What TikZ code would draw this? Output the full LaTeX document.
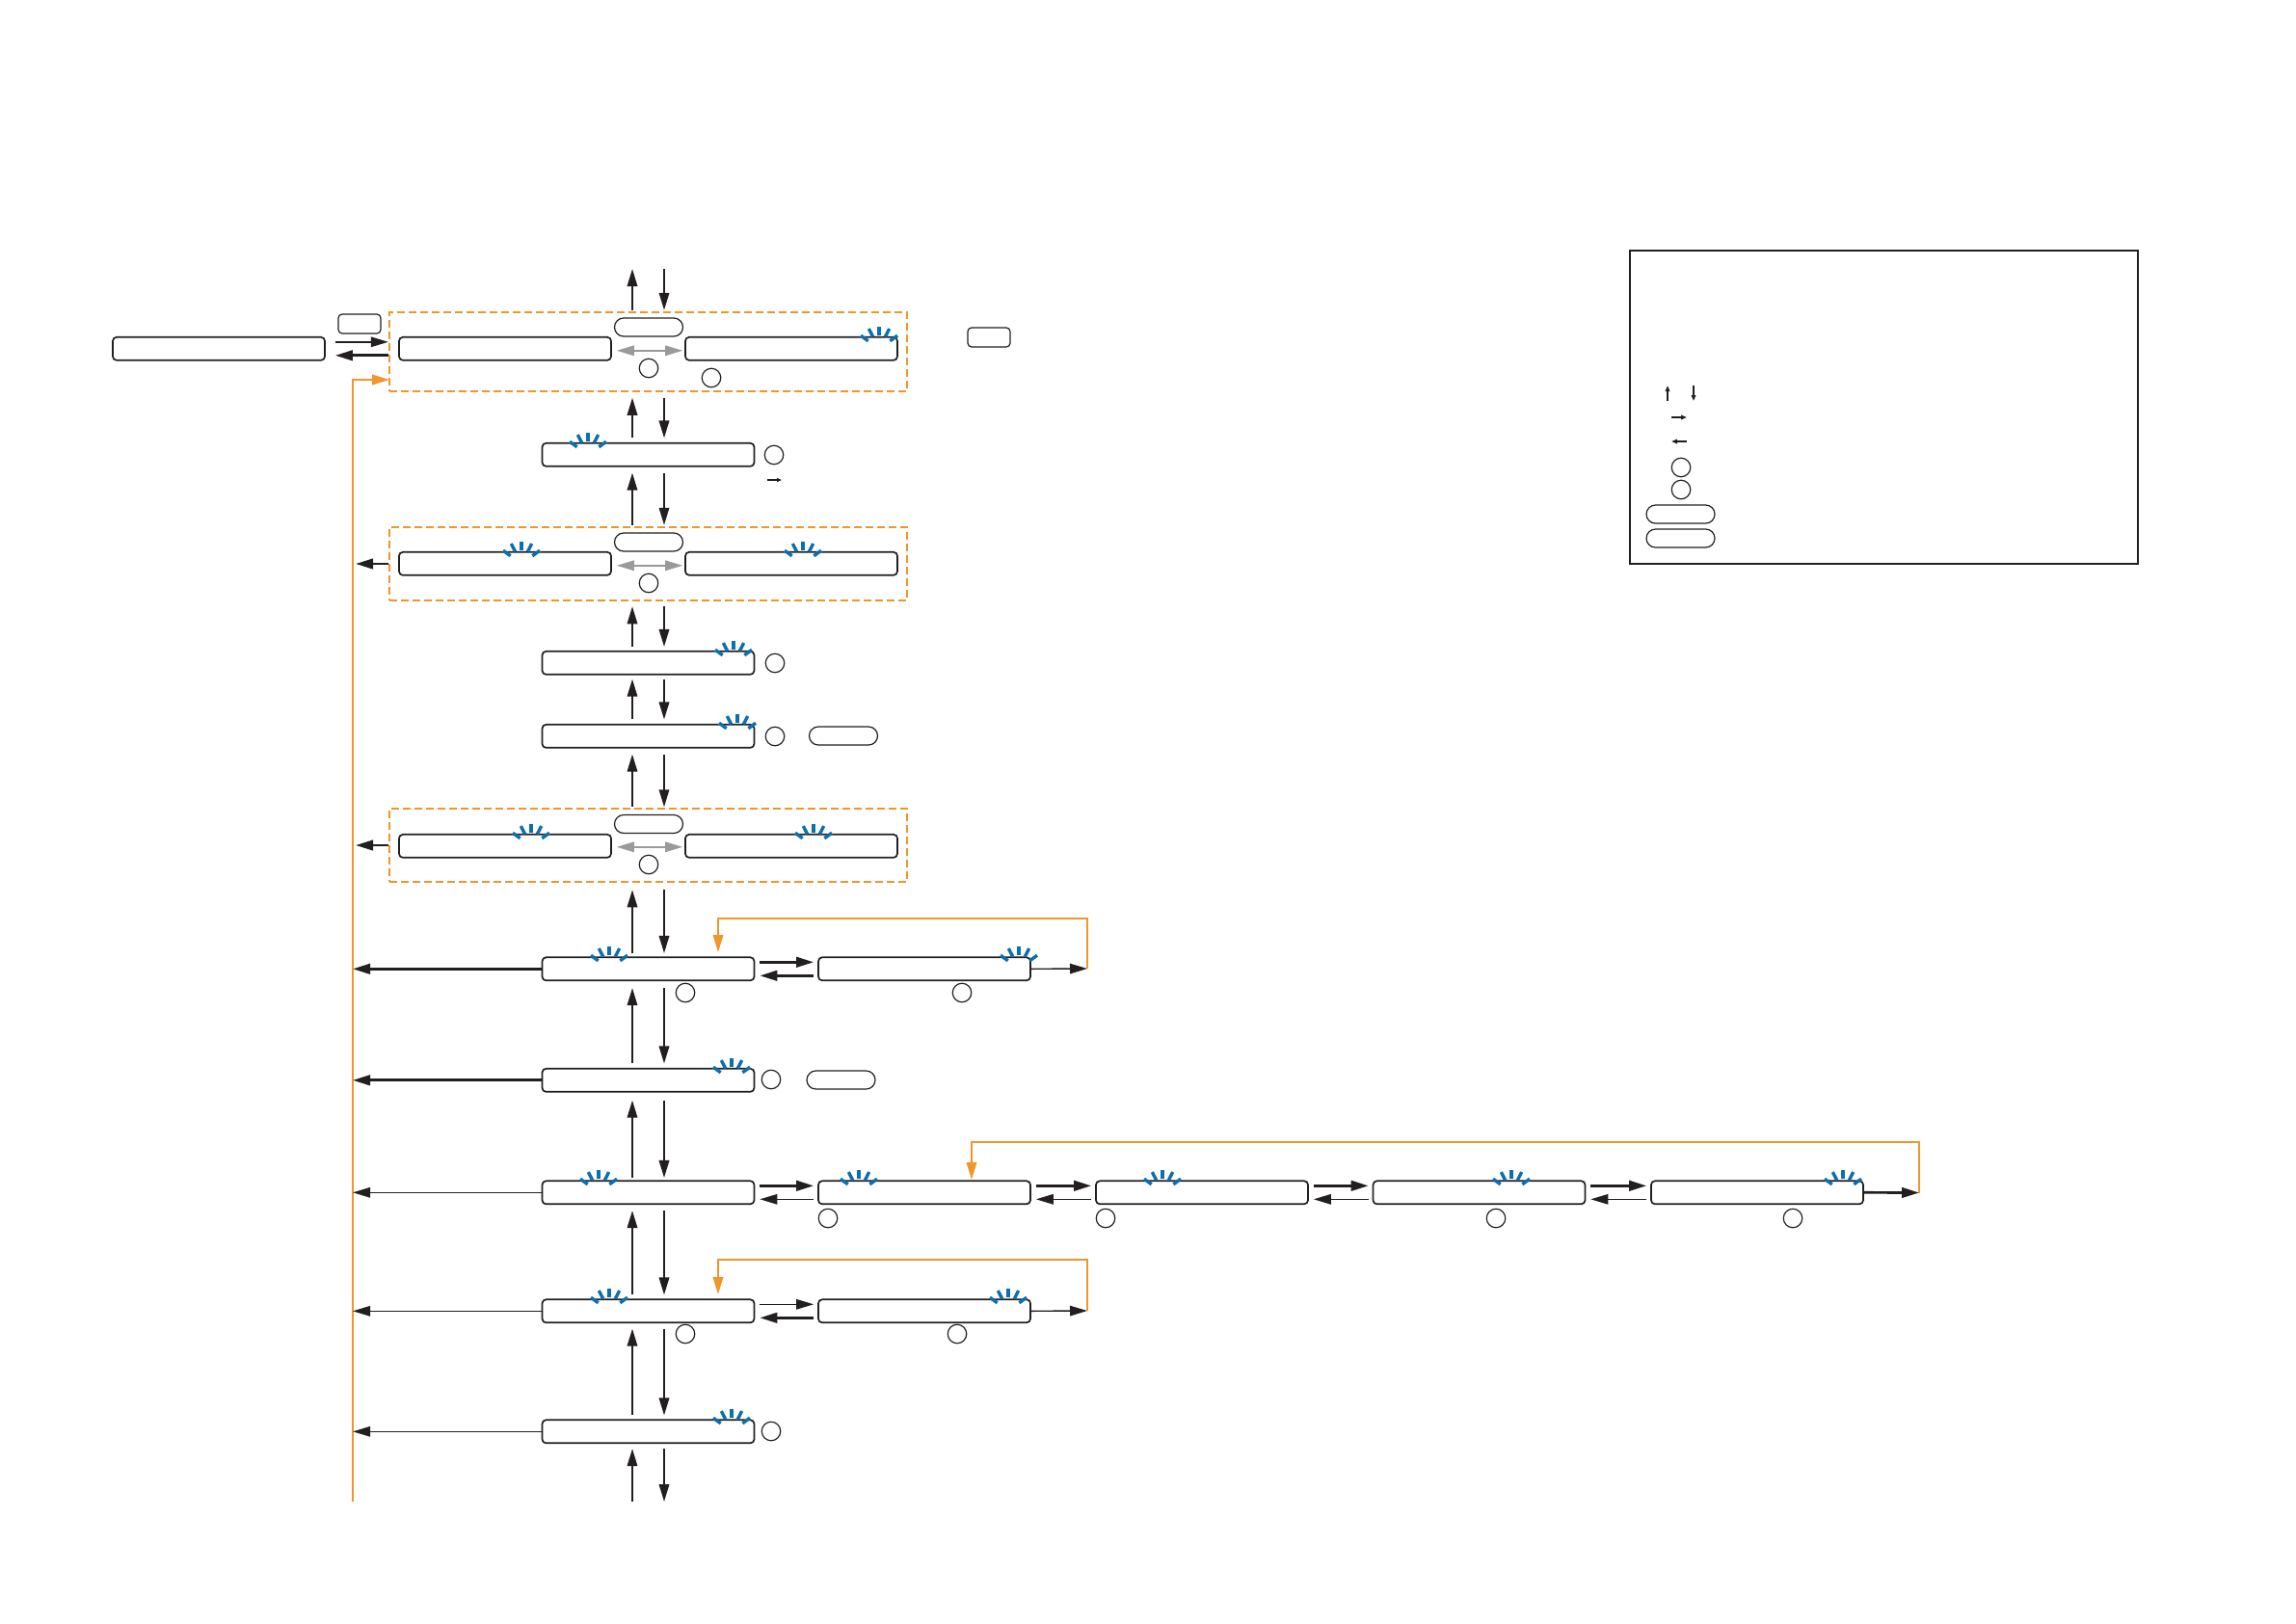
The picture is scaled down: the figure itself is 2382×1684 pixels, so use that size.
\documentclass[tikz,border=0pt]{standalone}
\usetikzlibrary{arrows.meta}
\definecolor{flow}{HTML}{231F20}
\definecolor{orangeline}{HTML}{F0962A}
\definecolor{blink}{HTML}{0B6FB0}
\definecolor{greyarrow}{HTML}{9A9A9A}
\tikzset{
  headtip/.style={-{Triangle[length=1.8mm,width=1.05mm]}},
  thinline/.style={draw=flow,line width=0.14mm,headtip},
  midline/.style={draw=flow,line width=0.18mm,headtip},
  thickline/.style={draw=flow,line width=0.27mm,headtip},
  display/.style={draw=flow,line width=0.17mm,rounded corners=0.4mm,inner sep=0pt,minimum width=22mm,minimum height=2.4mm,yshift=-0.08mm},
  keybox/.style={draw=flow,line width=0.12mm,rounded corners=0.4mm,inner sep=0pt,minimum width=4.4mm,minimum height=2mm},
  pill/.style={draw=flow,line width=0.12mm,rounded corners=0.95mm,inner sep=0pt,minimum width=7.1mm,minimum height=1.9mm},
  numcircle/.style={draw=flow,line width=0.12mm,circle,inner sep=0pt,minimum size=1.95mm},
  group/.style={draw=orangeline,line width=0.25mm,dash pattern=on 0.8mm off 0.4mm,inner sep=0pt,minimum width=53.7mm},
  loopline/.style={draw=orangeline,line width=0.2mm,headtip},
  toggle/.style={draw=greyarrow,line width=0.16mm,{Triangle[length=1.8mm,width=1.05mm]}-{Triangle[length=1.8mm,width=1.05mm]},shorten <=0.5mm,shorten >=0.2mm},
  spark/.pic={
    \foreach \a in {36,63,90,117,144}
      \draw[blink,line width=0.34mm] (\a:1.4mm) -- (\a:2.35mm);
  }
}
% up and down arrows between two rows: lower, upper, gap at lower, gap at upper
\newcommand{\updown}[4]{
  \draw[midline,shorten <=#3,shorten >=#4] (#1.north -| upx) -- (#2.south -| upx);
  \draw[midline,shorten <=#4,shorten >=#3] (#2.south -| dnx) -- (#1.north -| dnx);
}
% arrow pair between two neighbouring boxes
\newcommand{\rightleft}[4]{
  \draw[#3,shorten <=0.5mm,shorten >=0.4mm] ([yshift=0.7mm]#1.east) -- ([yshift=0.7mm]#2.west);
  \draw[#4,shorten <=0.4mm,shorten >=0.5mm] ([yshift=-0.7mm]#2.west) -- ([yshift=-0.7mm]#1.east);
}
\begin{document}
\begin{tikzpicture}[x=0.1mm,y=-0.1mm]
  \useasboundingbox (0,0) rectangle (2382,1684);
  \coordinate (upx) at (656,0);
  \coordinate (dnx) at (689,0);
  \coordinate (top) at (672,279);
  \coordinate (bottom) at (672,1558);
  \coordinate (orbot) at (366,1558);
  \coordinate (orin) at (404,394);

  % first row
  \node[display] (start) at (227,361) {};
  \node[keybox] (keya) at (373,336) {};
  \node[group,minimum height=8.2mm] (grpa) at (672.5,365) {};
  \node[display] (grpaL) at (524,361) {};
  \node[display] (grpaR) at (821,361) {};
  \node[pill] (pilla) at (673,339.5) {};
  \node[numcircle] (numa) at (673,382) {};
  \node[numcircle] (numb) at (738,392) {};
  \node[keybox] (keyb) at (1026,350) {};
  \pic at (912,362) {spark};
  \draw[thinline,shorten <=1mm] ([yshift=0.7mm]start.east) -- ([yshift=0.7mm]start.east -| grpa.west);
  \draw[thickline,shorten >=1mm] ([yshift=-0.7mm]start.east -| grpa.west) -- ([yshift=-0.7mm]start.east);
  \draw[toggle] ([yshift=-0.2mm]grpaL.east) -- ([yshift=-0.2mm]grpaR.west);
  \draw[loopline,line width=0.25mm] (orbot) |- (orin);

  % second row
  \node[display] (disb) at (672.5,471) {};
  \node[numcircle] (numc) at (803,472) {};
  \coordinate (smalla) at (796,498);
  \coordinate (smallb) at (811,498);
  \draw[flow,line width=0.16mm,-{Triangle[length=0.5mm,width=0.4mm]}] (smalla) -- (smallb);
  \pic at (610,472) {spark};

  % second group
  \node[group,minimum height=7.6mm] (grpb) at (672.5,585) {};
  \node[display] (grpbL) at (524,584) {};
  \node[display] (grpbR) at (821,584) {};
  \node[pill] (pillb) at (673,562.5) {};
  \node[numcircle] (numd) at (673,605) {};
  \pic at (541,585) {spark};
  \pic at (833,585) {spark};
  \draw[toggle] ([yshift=-0.2mm]grpbL.east) -- ([yshift=-0.2mm]grpbR.west);
  \draw[midline,line width=0.25mm,shorten >=0.3mm] (grpb.west) -- (grpb.west -| orbot);

  % third and fourth row
  \node[display] (disc) at (672.5,687) {};
  \node[numcircle] (nume) at (804,688) {};
  \pic at (761,688) {spark};
  \node[display] (disd) at (672.5,763) {};
  \node[numcircle] (numf) at (804,764) {};
  \node[pill] (pillc) at (875,763.5) {};
  \pic at (765,764) {spark};

  % third group
  \node[group,minimum height=7.6mm] (grpc) at (672.5,877) {};
  \node[display] (grpcL) at (524,877) {};
  \node[display] (grpcR) at (821,877) {};
  \node[pill] (pilld) at (673,855) {};
  \node[numcircle] (numg) at (673,897) {};
  \pic at (551,878) {spark};
  \pic at (844,878) {spark};
  \draw[toggle] ([yshift=-0.1mm]grpcL.east) -- ([yshift=-0.1mm]grpcR.west);
  \draw[midline,line width=0.25mm,shorten >=0.3mm] (grpc.west) -- (grpc.west -| orbot);

  % row with one extra box
  \node[display] (dise) at (672.5,1004.5) {};
  \node[display] (diseb) at (959,1004.5) {};
  \node[numcircle] (numh) at (711,1030) {};
  \node[numcircle] (numi) at (998,1030) {};
  \pic at (632,1005) {spark};
  \pic at (1057,1005) {spark};
  \rightleft{dise}{diseb}{thickline}{thickline}
  \draw[thickline] (dise.west) -- (dise.west -| orbot);
  \coordinate (loopa) at (1128,1005);
  \coordinate (loopb) at (745,988);
  \draw[thinline] (diseb.east) -- (loopa);
  \draw[loopline] (loopa) |- (745,953) -- (loopb);

  % sixth row
  \node[display] (disf) at (672.5,1120) {};
  \node[numcircle] (numj) at (800,1120) {};
  \node[pill] (pille) at (872.5,1120.5) {};
  \pic at (759,1121) {spark};
  \draw[thickline] (disf.west) -- (disf.west -| orbot);

  % long row
  \node[display] (disg) at (672.5,1236.5) {};
  \node[display] (disgb) at (959,1236.5) {};
  \node[display] (disgc) at (1247,1236.5) {};
  \node[display] (disgd) at (1534.5,1236.5) {};
  \node[display] (disge) at (1823,1236.5) {};
  \node[numcircle] (numk) at (859,1264) {};
  \node[numcircle] (numl) at (1147,1264) {};
  \node[numcircle] (numm) at (1552,1264) {};
  \node[numcircle] (numn) at (1860,1264) {};
  \pic at (621,1237) {spark};
  \pic at (891,1237) {spark};
  \pic at (1206,1237) {spark};
  \pic at (1568,1237) {spark};
  \pic at (1912,1237) {spark};
  \rightleft{disg}{disgb}{thickline}{thinline}
  \rightleft{disgb}{disgc}{thickline}{thinline}
  \rightleft{disgc}{disgd}{thickline}{thinline}
  \rightleft{disgd}{disge}{thickline}{thinline}
  \draw[thinline] (disg.west) -- (disg.west -| orbot);
  \coordinate (loopc) at (1991,1237.5);
  \coordinate (loopd) at (1008,1224);
  \draw[thickline] (disge.east) -- (loopc);
  \draw[loopline] (loopc) |- (1008,1185) -- (loopd);

  % row eight
  \node[display] (dish) at (672.5,1359.5) {};
  \node[display] (dishb) at (959,1359.5) {};
  \node[numcircle] (numo) at (711,1384) {};
  \node[numcircle] (nump) at (993,1384) {};
  \pic at (632,1360) {spark};
  \pic at (1046,1360) {spark};
  \rightleft{dish}{dishb}{thinline}{thickline}
  \draw[thinline] (dish.west) -- (dish.west -| orbot);
  \coordinate (loope) at (1128,1360);
  \coordinate (loopf) at (745,1343);
  \draw[thinline] (dishb.east) -- (loope);
  \draw[loopline] (loope) |- (745,1307) -- (loopf);

  % last row
  \node[display] (disi) at (672.5,1484.5) {};
  \node[numcircle] (numq) at (800,1485) {};
  \pic at (759,1485) {spark};
  \draw[thinline] (disi.west) -- (disi.west -| orbot);

  % vertical arrows
  \updown{grpa}{top}{0.1mm}{0mm}
  \updown{disb}{grpa}{0.45mm}{0.55mm}
  \updown{grpb}{disb}{0.1mm}{0.6mm}
  \updown{disc}{grpb}{0.4mm}{0.5mm}
  \updown{disd}{disc}{0.45mm}{0.4mm}
  \updown{grpc}{disd}{0.05mm}{0.6mm}
  \updown{dise}{grpc}{0.35mm}{0.7mm}
  \updown{disf}{dise}{0.45mm}{0.7mm}
  \updown{disg}{disf}{0.25mm}{0.8mm}
  \updown{dish}{disg}{0.4mm}{0.6mm}
  \updown{disi}{dish}{0.4mm}{0.55mm}
  \updown{bottom}{disi}{0mm}{0.5mm}

  % legend
  \node[draw=flow,line width=0.24mm,inner sep=0pt,minimum width=52.7mm,minimum height=32.5mm] (legend) at (1954.5,422.5) {};
  \coordinate (lega) at (1730,416);
  \coordinate (legb) at (1730,400);
  \coordinate (legc) at (1757,400);
  \coordinate (legd) at (1757,416);
  \coordinate (lege) at (1734,433);
  \coordinate (legf) at (1750,433);
  \coordinate (legg) at (1750,458);
  \coordinate (legh) at (1734,458);
  \tikzset{legendtip/.style={draw=flow,line width=0.16mm,-{Triangle[length=0.6mm,width=0.45mm]}}}
  \draw[legendtip] (lega) -- (legb);
  \draw[legendtip] (legc) -- (legd);
  \draw[legendtip] (lege) -- (legf);
  \draw[legendtip] (legg) -- (legh);
  \node[numcircle] (lnuma) at (1744,485) {};
  \node[numcircle] (lnumb) at (1744,508) {};
  \node[pill] (lpilla) at (1743.5,533.5) {};
  \node[pill] (lpillb) at (1743.5,558.5) {};
\end{tikzpicture}
\end{document}
